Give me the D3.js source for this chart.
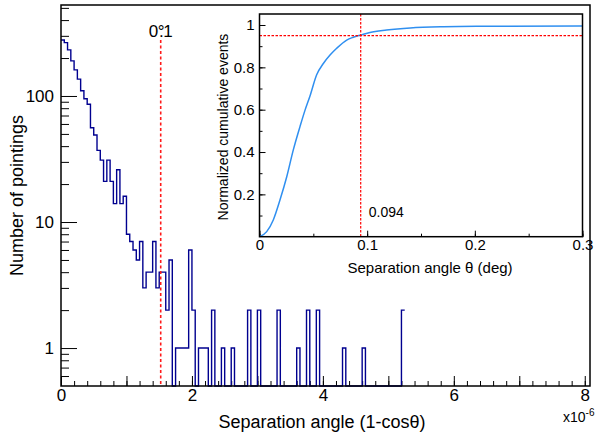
<!DOCTYPE html>
<html lang="en">
<head>
<meta charset="UTF-8">
<script src="https://d3js.org/d3.v7.min.js"></script>
<style>
  body { margin: 0; background: #fff; }
  svg { font-family: "Liberation Sans", Arial, Helvetica, sans-serif; }
  .tick line { stroke: #000; }
</style>
</head>
<body>
<div id="chart"></div>
<script>
// Histogram: counts per bin of width 0.05 (x10^-6), starting at 0
const binWidth = 0.05;
const counts = [
  278, 265, 232, 190, 161, 136, 110, 95, 86, 56,
  49, 37, 31, 21, 31, 21, 14, 26, 14, 16,
  8, 7, 6, 5, 7, 3, 4, 4, 7, 3,
  4, 4, 2, 5, 0, 1, 1, 1, 1, 6,
  2, 0, 1, 1, 1, 0, 2, 0, 0, 1,
  0, 0, 1, 0, 0, 0, 0, 2, 0, 0,
  2, 0, 0, 0, 0, 0, 2, 0, 0, 0,
  0, 0, 1, 0, 0, 2, 0, 0, 2, 0,
  0, 0, 0, 0, 0, 0, 1, 0, 0, 0,
  0, 0, 1, 0, 0, 0, 0, 0, 0, 0,
  0, 0, 0, 0, 2
];
const cutValue = 1.523;          // 1-cos(0.1 deg), x10^-6
const cutLabel = "0\u00b0.1";

// Inset: cumulative fraction vs separation angle (deg)
const cumTheta = [0, 0.0067, 0.0128, 0.019, 0.0253, 0.0314, 0.0376, 0.0423, 0.0469, 0.0531,
  0.0593, 0.0655, 0.0717, 0.081, 0.0871, 0.0943, 0.1026, 0.118, 0.14, 0.171, 0.2017, 0.3];
const cumFrac = [0, 0.024, 0.079, 0.173, 0.283, 0.41, 0.52, 0.598, 0.665, 0.765,
  0.818, 0.858, 0.89, 0.929, 0.942, 0.953, 0.965, 0.976, 0.986, 0.992, 0.994, 0.995];
const insetCutTheta = 0.094;
const insetCutFrac = 0.95;

const width = 606, height = 439;
const svg = d3.select("#chart").append("svg")
  .attr("width", width).attr("height", height);

const tickFont = g => g.selectAll("text")
  .attr("fill", "#000")
  .attr("font-family", "Liberation Sans, Arial, sans-serif");

// ---------- main plot ----------
const m = { left: 61, right: 590, top: 5, bottom: 386 };
const x = d3.scaleLinear().domain([0, 8.08]).range([m.left, m.right]);
const y = d3.scaleLog().domain([0.5, 527]).range([m.bottom, m.top]);

// x axis ticks (inside)
svg.append("g")
  .attr("transform", `translate(0,${m.bottom})`)
  .call(d3.axisBottom(x).tickValues(d3.range(0, 8.01, 0.2)).tickSize(-5).tickFormat(""))
  .call(g => g.select(".domain").remove());
svg.append("g")
  .attr("transform", `translate(0,${m.bottom})`)
  .call(d3.axisBottom(x).tickValues(d3.range(0, 9, 1)).tickSize(-10).tickPadding(3)
    .tickFormat(d => d % 2 === 0 ? d : ""))
  .call(g => g.select(".domain").remove())
  .call(tickFont)
  .call(g => g.selectAll("text").attr("font-size", 17));

// y axis ticks (inside)
const yMinor = [0.6, 0.7, 0.8, 0.9, 2, 3, 4, 5, 6, 7, 8, 9, 20, 30, 40, 50, 60, 70, 80, 90, 200, 300, 400, 500];
svg.append("g")
  .attr("transform", `translate(${m.left},0)`)
  .call(d3.axisLeft(y).tickValues(yMinor).tickSize(-8).tickFormat(""))
  .call(g => g.select(".domain").remove());
svg.append("g")
  .attr("transform", `translate(${m.left},0)`)
  .call(d3.axisLeft(y).tickValues([1, 10, 100]).tickSize(-16).tickPadding(7).tickFormat(d3.format("d")))
  .call(g => g.select(".domain").remove())
  .call(tickFont)
  .call(g => g.selectAll("text").attr("font-size", 17));

// histogram outline
const pts = [];
counts.forEach((c, i) => {
  const v = Math.max(c, y.domain()[0]);
  pts.push([i * binWidth, v], [(i + 1) * binWidth, v]);
});
svg.append("path")
  .attr("d", d3.line().x(d => x(d[0])).y(d => y(d[1]))(pts))
  .attr("fill", "none")
  .attr("stroke", "#00008f")
  .attr("stroke-width", 1.4);

// cut line
svg.append("line")
  .attr("x1", x(cutValue)).attr("x2", x(cutValue))
  .attr("y1", 40).attr("y2", m.bottom)
  .attr("stroke", "#ff1a1a").attr("stroke-width", 1.6)
  .attr("stroke-dasharray", "3,2.5");
svg.append("text")
  .attr("x", x(cutValue) - 12).attr("y", 37)
  .attr("dx", "0 -0.5 -5.5 -0.5")
  .attr("font-size", 17).attr("fill", "#000")
  .text(cutLabel);

// frame
svg.append("rect")
  .attr("x", m.left).attr("y", m.top)
  .attr("width", m.right - m.left).attr("height", m.bottom - m.top)
  .attr("fill", "none").attr("stroke", "#000").attr("stroke-width", 1.5);

// axis titles
svg.append("text")
  .attr("transform", `translate(23,${(m.top + m.bottom) / 2}) rotate(-90)`)
  .attr("text-anchor", "middle").attr("font-size", 18).attr("fill", "#000")
  .text("Number of pointings");
svg.append("text")
  .attr("x", 322).attr("y", 428)
  .attr("text-anchor", "middle").attr("font-size", 18).attr("fill", "#000")
  .text("Separation angle (1-cos\u03b8)");
const ex = svg.append("text")
  .attr("x", 563).attr("y", 422)
  .attr("font-size", 14).attr("fill", "#000");
ex.append("tspan").text("x10");
ex.append("tspan").attr("dy", -6).attr("font-size", 10).text("-6");

// ---------- inset ----------
const n = { left: 259.5, right: 582.5, top: 14, bottom: 236.7 };
const xi = d3.scaleLinear().domain([0, 0.3]).range([n.left, n.right]);
const yi = d3.scaleLinear().domain([0, 1.052]).range([n.bottom, n.top]);

svg.append("g")
  .attr("transform", `translate(0,${n.bottom})`)
  .call(d3.axisBottom(xi).tickValues(d3.range(0, 0.301, 0.05)).tickSize(-3).tickFormat(""))
  .call(g => g.select(".domain").remove());
svg.append("g")
  .attr("transform", `translate(0,${n.bottom})`)
  .call(d3.axisBottom(xi).tickValues([0, 0.1, 0.2, 0.3]).tickSize(-6).tickPadding(3)
    .tickFormat(d => d === 0 ? "0" : d3.format(".1f")(d)))
  .call(g => g.select(".domain").remove())
  .call(tickFont)
  .call(g => g.selectAll("text").attr("font-size", 15));

svg.append("g")
  .attr("transform", `translate(${n.left},0)`)
  .call(d3.axisLeft(yi).tickValues(d3.range(0.1, 1.01, 0.1)).tickSize(-3).tickFormat(""))
  .call(g => g.select(".domain").remove());
svg.append("g")
  .attr("transform", `translate(${n.left},0)`)
  .call(d3.axisLeft(yi).tickValues([0.2, 0.4, 0.6, 0.8, 1]).tickSize(-6).tickPadding(5)
    .tickFormat(d => d === 1 ? "1" : d3.format(".1f")(d)))
  .call(g => g.select(".domain").remove())
  .call(tickFont)
  .call(g => g.selectAll("text").attr("font-size", 15));

svg.append("path")
  .datum(cumTheta.map((t, i) => [t, cumFrac[i]]))
  .attr("d", d3.line().x(d => xi(d[0])).y(d => yi(d[1])).curve(d3.curveMonotoneX))
  .attr("fill", "none").attr("stroke", "#2f8ff0").attr("stroke-width", 1.5);

svg.append("line")
  .attr("x1", xi(insetCutTheta)).attr("x2", xi(insetCutTheta))
  .attr("y1", n.top).attr("y2", n.bottom)
  .attr("stroke", "#ff0000").attr("stroke-width", 1.2).attr("stroke-dasharray", "2.5,1.5");
svg.append("line")
  .attr("x1", n.left).attr("x2", n.right)
  .attr("y1", yi(insetCutFrac)).attr("y2", yi(insetCutFrac))
  .attr("stroke", "#ff0000").attr("stroke-width", 1.2).attr("stroke-dasharray", "2.5,1.5");

svg.append("text")
  .attr("x", xi(insetCutTheta) + 8).attr("y", 217)
  .attr("font-size", 14).attr("fill", "#000")
  .text(insetCutTheta.toFixed(3));

svg.append("rect")
  .attr("x", n.left).attr("y", n.top)
  .attr("width", n.right - n.left).attr("height", n.bottom - n.top)
  .attr("fill", "none").attr("stroke", "#000").attr("stroke-width", 1.5);

svg.append("text")
  .attr("x", 430).attr("y", 273)
  .attr("text-anchor", "middle").attr("font-size", 15).attr("fill", "#000")
  .text("Separation angle \u03b8 (deg)");
svg.append("text")
  .attr("transform", `translate(228,127) rotate(-90)`)
  .attr("text-anchor", "middle").attr("font-size", 14).attr("fill", "#000")
  .text("Normalized cumulative events");
</script>
</body>
</html>
